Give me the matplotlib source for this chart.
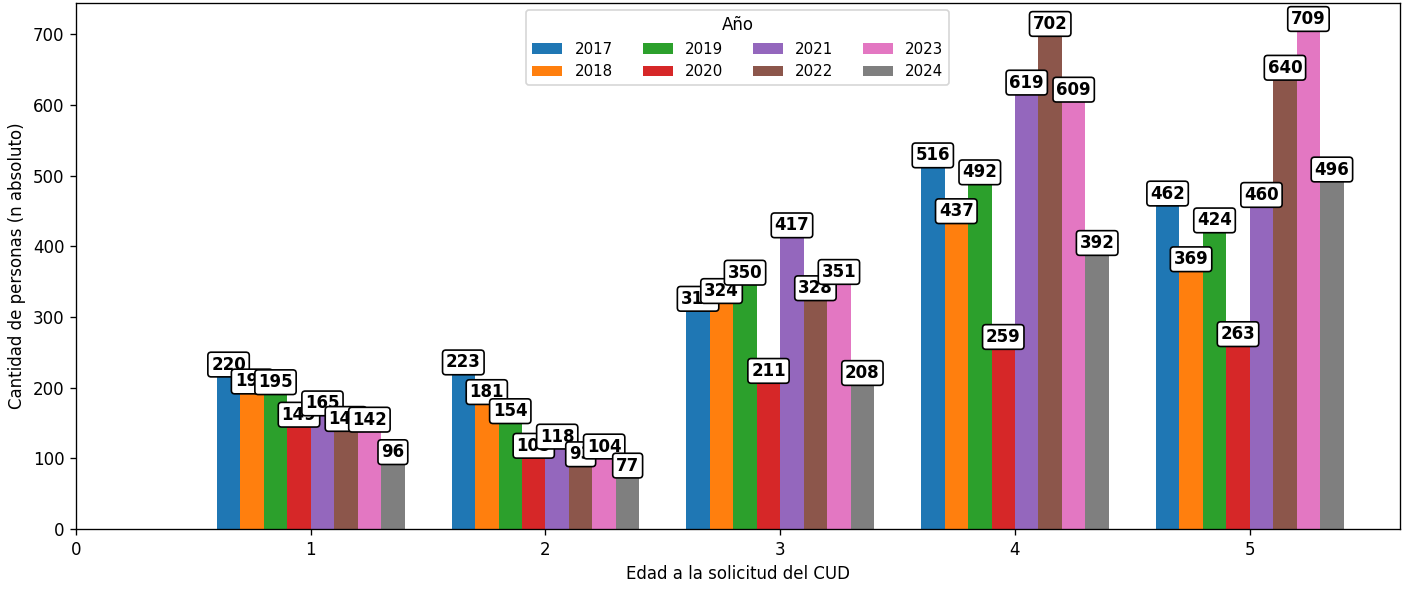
import numpy as np
import matplotlib
matplotlib.use("Agg")
import matplotlib.pyplot as plt

edades = [1, 2, 3, 4, 5]
anios = ["2017", "2018", "2019", "2020", "2021", "2022", "2023", "2024"]

n_2017 = [220, 223, 313, 516, 462]
n_2018 = [196, 181, 324, 437, 369]
n_2019 = [195, 154, 350, 492, 424]
n_2020 = [149, 105, 211, 259, 263]
n_2021 = [165, 118, 417, 619, 460]
n_2022 = [143, 93, 328, 702, 640]
n_2023 = [142, 104, 351, 609, 709]
n_2024 = [96, 77, 208, 392, 496]

series = [n_2017, n_2018, n_2019, n_2020, n_2021, n_2022, n_2023, n_2024]

fig, ax = plt.subplots(figsize=(1412 / 120, 590 / 120), dpi=120)
fig.subplots_adjust(left=0.0538, right=0.9915, top=0.995, bottom=0.1034)

x = np.array(edades, dtype=float)
width = 0.1
n = len(series)

for i, (anio, vals) in enumerate(zip(anios, series)):
    pos = x + (i - (n - 1) / 2) * width
    bars = ax.bar(pos, vals, width=width, label=anio, color=f"C{i}")
    for b, v in zip(bars, vals):
        ax.annotate(f"{v}",
                    xy=(b.get_x() + b.get_width() / 2, v),
                    xytext=(0, 0), textcoords="offset points",
                    ha="center", va="bottom",
                    fontsize=10, fontweight="bold",
                    bbox=dict(boxstyle="round,pad=0.2", fc="white",
                              ec="black", lw=1))

ax.set_xlim(left=0)
ax.set_xticks([0, 1, 2, 3, 4, 5])
ax.set_xlabel("Edad a la solicitud del CUD")
ax.set_ylabel("Cantidad de personas (n absoluto)")
ax.legend(title="Año", ncol=4, loc="upper center", fontsize=9,
          title_fontsize=10)

fig.savefig("out.png", dpi=120)
